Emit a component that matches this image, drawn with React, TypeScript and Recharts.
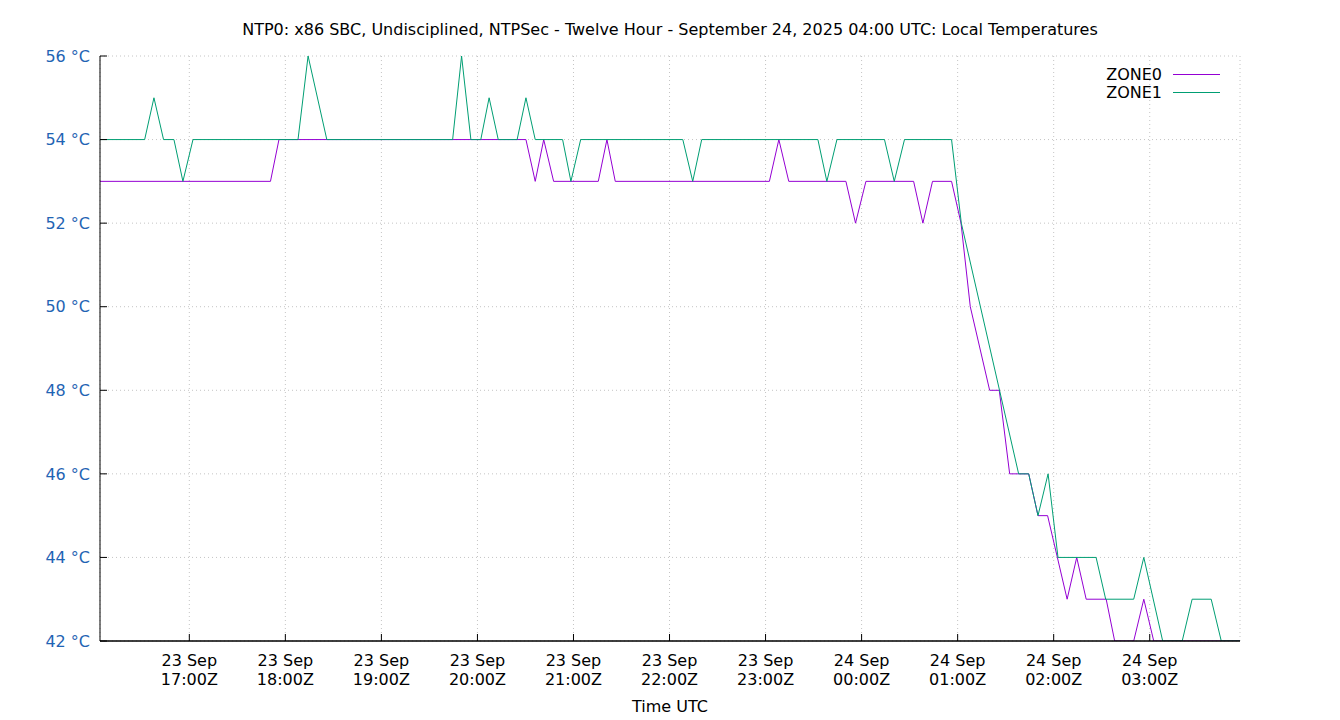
import { LineChart, Line, XAxis, YAxis, CartesianGrid, Legend, ReferenceLine } from "recharts";

// time axis: minutes after 23 Sep 16:00Z
const timeStart = 4.2;
const timeEnd = 716.4;

// ZONE0 turning points
const zone0Time = [
  4.2, 110.7, 116.0, 270.3, 276.1, 281.4, 287.6, 315.5, 320.9, 326.1, 422.4, 428.3, 434.5,
  470.2, 476.2, 482.7, 512.5, 518.3, 524.3, 536.2, 542.1, 547.9, 560.0, 566.0, 572.5, 584.4,
  590.2, 596.2, 608.4, 614.4, 620.3, 632.8, 638.1, 650.0, 656.3, 662.5, 716.4,
];
const zone0Temp = [
  53, 53, 54, 54, 53, 54, 53, 53, 54, 53, 53, 54, 53, 53, 52, 53, 53, 52, 53, 53, 52, 50, 48,
  48, 46, 46, 45, 45, 43, 44, 43, 43, 42, 42, 43, 42, 42,
];

// ZONE1 turning points
const zone1Time = [
  4.2, 32.1, 37.9, 43.9, 50.4, 56.0, 62.3, 127.9, 134.2, 145.9, 224.5, 230.1, 235.9, 242.1,
  247.3, 253.0, 264.8, 270.3, 276.1, 293.2, 298.4, 304.5, 368.3, 374.5, 380.1, 452.7, 458.3,
  464.6, 494.3, 500.4, 506.8, 536.2, 542.3, 578.1, 584.4, 590.2, 596.5, 602.7, 626.5, 632.5,
  650.0, 656.3, 668.1, 680.3, 686.5, 698.4, 704.7, 716.4,
];
const zone1Temp = [
  54, 54, 55, 54, 54, 53, 54, 54, 56, 54, 54, 56, 54, 54, 55, 54, 54, 55, 54, 54, 53, 54, 54,
  53, 54, 54, 53, 54, 54, 53, 54, 54, 52, 46, 46, 45, 46, 44, 44, 43, 43, 44, 42, 42, 43, 43,
  42, 42,
];

const xTicks = [60, 120, 180, 240, 300, 360, 420, 480, 540, 600, 660];
const xTickDay = [
  "23 Sep", "23 Sep", "23 Sep", "23 Sep", "23 Sep", "23 Sep", "23 Sep",
  "24 Sep", "24 Sep", "24 Sep", "24 Sep",
];
const xTickHour = [
  "17:00Z", "18:00Z", "19:00Z", "20:00Z", "21:00Z", "22:00Z", "23:00Z",
  "00:00Z", "01:00Z", "02:00Z", "03:00Z",
];
const yTicks = [42, 44, 46, 48, 50, 52, 54, 56];

const zone0 = zone0Time.map((t, i) => ({ t, temp: zone0Temp[i] }));
const zone1 = zone1Time.map((t, i) => ({ t, temp: zone1Temp[i] }));

const FONT = "'DejaVu Sans', sans-serif";
const BLUE = "#1f64b4";
const FS = 16;

function TimeTick(props: any) {
  const { x, y, payload } = props;
  const i = xTicks.indexOf(payload.value);
  return (
    <text x={x} y={y} textAnchor="middle" fill="#000" fontSize={FS} fontFamily={FONT}>
      <tspan x={x} dy={0}>{xTickDay[i]}</tspan>
      <tspan x={x} dy={19}>{xTickHour[i]}</tspan>
    </text>
  );
}

function LegendBox(props: any) {
  const items = props.payload || [];
  return (
    <div style={{ fontSize: FS, fontFamily: FONT, color: "#000" }}>
      {items.map((it: any) => (
        <div
          key={it.value}
          style={{
            display: "flex",
            alignItems: "center",
            justifyContent: "flex-end",
            height: 18.4,
          }}
        >
          <span style={{ marginRight: 11 }}>{it.value}</span>
          <span style={{ width: 47, borderTop: `1px solid ${it.color}` }} />
        </div>
      ))}
    </div>
  );
}

export default function App() {
  return (
    <div
      style={{
        position: "absolute",
        left: 0,
        top: 0,
        width: 1340,
        height: 720,
        background: "#fff",
        fontFamily: FONT,
      }}
    >
      <div
        style={{
          position: "absolute",
          left: 0,
          top: 22,
          width: 1340,
          textAlign: "center",
          fontSize: FS,
          lineHeight: "16px",
          color: "#000",
          whiteSpace: "nowrap",
        }}
      >
        NTP0: x86 SBC, Undisciplined, NTPSec - Twelve Hour - September 24, 2025 04:00 UTC: Local
        Temperatures
      </div>
      <LineChart
        width={1340}
        height={720}
        margin={{ top: 56, right: 100, bottom: 0, left: 0 }}
      >
        <CartesianGrid stroke="#c4c4c4" strokeDasharray="1 3" />
        <Legend
          layout="vertical"
          align="center"
          verticalAlign="middle"
          content={<LegendBox />}
          wrapperStyle={{ left: 1100, top: 65, width: 120 }}
        />
        <XAxis
          dataKey="t"
          type="number"
          domain={[timeStart, timeEnd]}
          allowDataOverflow
          ticks={xTicks}
          height={79}
          tickSize={-7}
          tickMargin={32}
          tick={<TimeTick />}
          interval={0}
          stroke="#000"
          axisLine={{ stroke: "#000" }}
          tickLine={{ stroke: "#000" }}
          label={{ value: "Time UTC", position: "insideBottom", offset: 8, fill: "#000", fontSize: FS }}
        />
        <XAxis
          xAxisId="top"
          orientation="top"
          dataKey="t"
          type="number"
          domain={[timeStart, timeEnd]}
          allowDataOverflow
          ticks={xTicks}
          height={0}
          tickSize={-7}
          tick={false}
          axisLine={{ stroke: "#000" }}
          tickLine={{ stroke: "#000" }}
        />
        <YAxis
          type="number"
          domain={[42, 56]}
          allowDataOverflow
          ticks={yTicks}
          width={100}
          tickSize={-7}
          tickMargin={17}
          interval={0}
          tickFormatter={(v: number) => `${v} °C`}
          tick={{ fill: BLUE, fontSize: FS }}
          axisLine={{ stroke: "#000" }}
          tickLine={{ stroke: "#000" }}
        />
        <YAxis
          yAxisId="right"
          orientation="right"
          type="number"
          domain={[42, 56]}
          width={0}
          tick={false}
          tickLine={false}
          axisLine={{ stroke: "#000" }}
        />
        <Line
          data={zone0}
          dataKey="temp"
          name="ZONE0"
          type="linear"
          stroke="#9400d3"
          strokeWidth={1}
          dot={false}
          activeDot={false}
          isAnimationActive={false}
        />
        <Line
          data={zone1}
          dataKey="temp"
          name="ZONE1"
          type="linear"
          stroke="#009e73"
          strokeWidth={1}
          dot={false}
          activeDot={false}
          isAnimationActive={false}
        />
        {/* frame edge drawn over the series, as gnuplot's border does */}
        <ReferenceLine y={42} stroke="#000" strokeWidth={1} ifOverflow="visible" />
      </LineChart>
    </div>
  );
}
